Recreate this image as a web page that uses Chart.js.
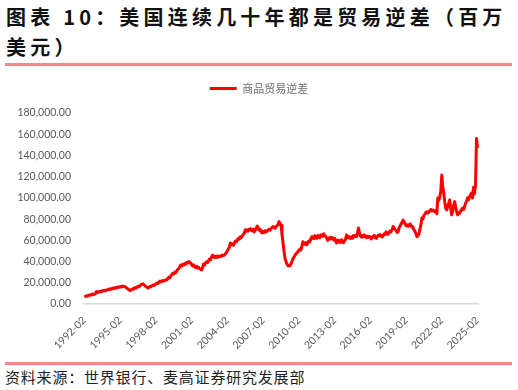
<!DOCTYPE html>
<html>
<head>
<meta charset="utf-8">
<script src="https://cdn.jsdelivr.net/npm/chart.js@4.4.1/dist/chart.umd.min.js"></script>
<style>
  html, body { margin: 0; padding: 0; background: #fff; }
  body { width: 518px; height: 390px; position: relative; overflow: hidden; }
  #title {
    position: absolute; left: 6px; top: 2px; width: 514px;
    font-family: "Noto Sans CJK SC", sans-serif; font-weight: bold;
    font-size: 20px; line-height: 30px; letter-spacing: 4.2px; color: #111;
    white-space: nowrap;
  }
  .rule { position: absolute; left: 5px; width: 507px; height: 3px; background: #f08a8a; }
  #wrap { position: absolute; left: 0; top: 70px; width: 518px; height: 285px; }
  #source {
    position: absolute; left: 5px; top: 367px;
    font-family: "Noto Sans CJK SC", sans-serif; font-size: 15px; line-height: 20px;
    letter-spacing: 0.8px; color: #222;
  }
</style>
</head>
<body>
<div id="title">图表 10：美国连续几十年都是贸易逆差（百万<br>美元）</div>
<div class="rule" style="top:63px"></div>
<div id="wrap"><canvas id="c" width="518" height="285"></canvas></div>
<div class="rule" style="top:362px"></div>
<div id="source">资料来源：世界银行、麦高证券研究发展部</div>
<script>
// Monthly goods trade deficit (USD millions), 1992-02 .. 2025-02
const seriesName = '商品贸易逆差';
const startYear = 1992, startMonth = 2;
const deficit = [
  /*1992*/ 6400, 7200, 7800, 7400, 8100, 8500, 8200, 8900, 9300, 8700, 9400,
  /*1993*/ 9800, 11600, 10700, 11200, 11900, 11400, 12300, 12000, 12800, 12400, 13100, 12600,
  /*1994*/ 13300, 14000, 13600, 14400, 13900, 14700, 15100, 14500, 15300, 15800, 15200, 15900,
  /*1995*/ 16300, 15800, 16600, 16100, 16900, 16400, 16300, 15600, 14800, 14000, 13300, 12600,
  /*1996*/ 13400, 14200, 13800, 14900, 15400, 15000, 16100, 16700, 16200, 17400, 18200, 18700,
  /*1997*/ 19000, 18100, 17200, 16400, 15700, 15000, 16000, 16700, 16300, 17300, 17900, 17500,
  /*1998*/ 18200, 19100, 19800, 19300, 20500, 21700, 20800, 21500, 22300, 21600, 22100, 22800,
  /*1999*/ 22600, 24100, 25300, 24600, 26400, 27800, 29000, 28300, 30000, 29400, 31200, 32600,
  /*2000*/ 33400, 35100, 36800, 35900, 37300, 36600, 38200, 37500, 39000, 38400, 40000, 39300,
  /*2001*/ 38700, 37100, 35800, 36900, 35200, 34300, 35500, 33900, 34600, 33300, 32600, 32000,
  /*2002*/ 34200, 37700, 36600, 38900, 39800, 39100, 40700, 42300, 41600, 44400, 46000, 45100,
  /*2003*/ 43700, 44800, 44000, 45300, 44200, 44600, 45500, 44900, 46200, 45600, 46000, 47300,
  /*2004*/ 48600, 50300, 51800, 53900, 57500, 55900, 56800, 55300, 57600, 59400, 58700, 60400,
  /*2005*/ 62000, 61200, 63400, 62600, 64100, 65500, 66800, 70000, 68600, 69900, 68700, 70400,
  /*2006*/ 71000, 69800, 68900, 70600, 68000, 69300, 71200, 73500, 71900, 69500, 70300, 68100,
  /*2007*/ 67000, 68400, 67500, 69100, 68000, 68800, 69800, 70400, 69500, 71300, 72100, 73000,
  /*2008*/ 72500, 71400, 73000, 73800, 74900, 77600, 76300, 74200, 66000, 58000, 50000, 43000,
  /*2009*/ 40200, 37600, 36000, 36300, 35900, 37800, 40100, 42500, 44000, 45800, 47400, 48000,
  /*2010*/ 49200, 50400, 51800, 50900, 54000, 58700, 57300, 56400, 57800, 55800, 57900, 59400,
  /*2011*/ 58600, 61200, 63400, 62100, 61500, 64300, 62800, 61900, 64600, 63200, 62400, 65100,
  /*2012*/ 65000, 63800, 66100, 64500, 63900, 62200, 60000, 61400, 62700, 61200, 62900, 61800,
  /*2013*/ 60500, 61900, 59200, 57500, 60200, 58400, 59700, 58000, 60600, 58900, 57800, 59300,
  /*2014*/ 61000, 65000, 62300, 63800, 62900, 61700, 63300, 62000, 64400, 63200, 64800, 63500,
  /*2015*/ 65900, 71600, 67400, 64200, 63000, 64600, 63300, 65100, 63800, 62400, 64000, 62900,
  /*2016*/ 63700, 63000, 61300, 62700, 63900, 64800, 62500, 61900, 63600, 65000, 64100, 65400,
  /*2017*/ 64300, 63200, 64800, 66100, 65300, 68000, 66700, 65800, 67300, 68900, 68100, 70200,
  /*2018*/ 73000, 71600, 70300, 69100, 67500, 68000, 71800, 73400, 75500, 77000, 79000, 77800,
  /*2019*/ 75300, 73900, 74600, 73000, 74100, 75600, 73800, 72900, 71500, 70100, 68400, 66200,
  /*2020*/ 63400, 64500, 66000, 70500, 74800, 81000, 80200, 83500, 84700, 86100, 87000, 85800,
  /*2021*/ 86500, 88000, 89200, 87600, 88600, 87800, 86900, 88100, 85000, 100000, 97600, 101500,
  /*2022*/ 106000, 121600, 110000, 104600, 96000, 90000, 88600, 92000, 95000, 98000, 90000, 84000,
  /*2023*/ 88000, 93000, 96500, 91000, 87000, 84000, 86000, 85500, 87500, 89000, 90500, 89000,
  /*2024*/ 92000, 95000, 97000, 100000, 98000, 101000, 103000, 104600, 100000, 110000, 104000, 112000,
  /*2025*/ 156000, 147000
];
const tickLabels = ['1992-02','1995-02','1998-02','2001-02','2004-02','2007-02','2010-02','2013-02','2016-02','2019-02','2022-02','2025-02'];

// month category labels
const months = [];
for (let k = 0; k < deficit.length; k++) {
  const m = startMonth - 1 + k;
  const y = startYear + Math.floor(m / 12);
  const mm = (m % 12) + 1;
  months.push(y + '-' + String(mm).padStart(2, '0'));
}

const legendHeightPlugin = {
  id: 'legendHeight',
  beforeInit(chart) {
    const lg = chart.legend;
    if (!lg) return;
    const orig = lg.fit;
    lg.fit = function () { orig.call(this); this.height = 43; };
  }
};

const gray = '#595959';
new Chart(document.getElementById('c'), {
  type: 'line',
  data: {
    labels: months,
    datasets: [{
      label: seriesName,
      data: deficit,
      borderColor: '#ff0000',
      backgroundColor: '#ff0000',
      borderWidth: 3,
      pointRadius: 0,
      tension: 0,
      borderJoinStyle: 'round'
    }]
  },
  options: {
    responsive: false,
    animation: false,
    devicePixelRatio: 1,
    layout: { padding: 0 },
    plugins: {
      tooltip: { enabled: false },
      legend: {
        display: true,
        position: 'top',
        labels: {
          boxWidth: 27, boxHeight: 3, padding: 13,
          color: '#6e6e6e',
          font: { family: '"Noto Sans CJK SC", sans-serif', size: 11 },
          generateLabels(chart) {
            const items = Chart.defaults.plugins.legend.labels.generateLabels(chart);
            items.forEach(it => { it.lineWidth = 0; it.fillStyle = '#ff0000'; });
            return items;
          }
        }
      }
    },
    scales: {
      x: {
        type: 'category',
        offset: true,
        grid: { display: false, drawTicks: false },
        border: { display: true, color: '#d9d9d9', width: 1.5 },
        ticks: {
          autoSkip: false,
          minRotation: 45, maxRotation: 45,
          padding: 10,
          color: gray,
          font: { family: 'Lato, "Liberation Sans", sans-serif', size: 10.5 },
          callback: function (v, i) {
            const l = this.getLabelForValue(v);
            return tickLabels.includes(l) ? l : '';
          }
        },
        afterFit(scale) { scale.height = 51; }
      },
      y: {
        min: 0, max: 180000,
        grid: { display: false, drawTicks: false },
        border: { display: false },
        ticks: {
          stepSize: 20000,
          padding: 13,
          color: gray,
          font: { family: 'Lato, "Liberation Sans", sans-serif', size: 10.5 },
          callback: v => Number(v).toLocaleString('en-US', { minimumFractionDigits: 2, maximumFractionDigits: 2 })
        },
        afterFit(scale) { scale.width = 84; }
      },
      yRight: {
        position: 'right',
        display: true,
        grid: { display: false, drawTicks: false },
        border: { display: false },
        ticks: { display: false },
        afterFit(scale) { scale.width = 40; }
      }
    }
  },
  plugins: [legendHeightPlugin]
});
</script>
</body>
</html>
